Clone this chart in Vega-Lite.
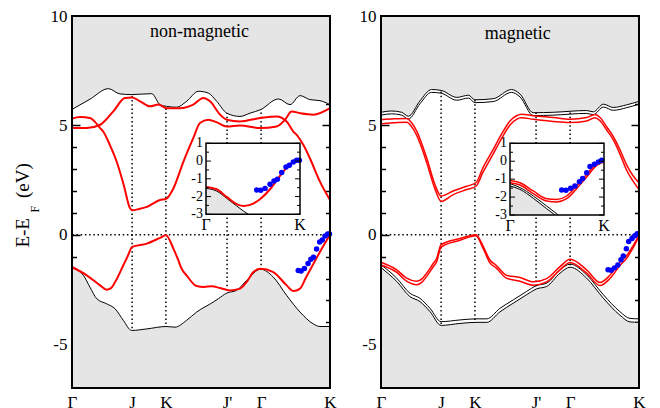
{
"$schema":"https://vega.github.io/schema/vega-lite/v6.json",
"autosize":{"type":"pad"},
"padding":{"left":14,"top":7,"right":0,"bottom":0},
"background":"white",
"bounds":"flush",
"spacing":51,
"datasets":{
"kp":[{"k":0.233},{"k":0.364},{"k":0.601},{"k":0.733}],
"inMaj":[{"v":1,"lab":"1"},{"v":0,"lab":"0"},{"v":-1,"lab":"-1"},{"v":-2,"lab":"-2"},{"v":-3,"lab":"-3"}],
"inMin":[{"v":0.5},{"v":-0.5},{"v":-1.5},{"v":-2.5}],
"inX":[{"k":0,"lab":"Γ"},{"k":1,"lab":"K"}],
"nmT":[{"k":0,"e":5.73},{"k":0.07,"e":6.2},{"k":0.141,"e":6.68},{"k":0.186,"e":6.44},{"k":0.231,"e":6.41},{"k":0.309,"e":6.45},{"k":0.341,"e":5.95},{"k":0.367,"e":5.87},{"k":0.406,"e":5.83},{"k":0.444,"e":6.1},{"k":0.49,"e":6.56},{"k":0.528,"e":6.48},{"k":0.561,"e":6.1},{"k":0.6,"e":5.56},{"k":0.651,"e":5.41},{"k":0.69,"e":5.56},{"k":0.731,"e":5.72},{"k":0.8,"e":6.21},{"k":0.845,"e":5.95},{"k":0.884,"e":6.36},{"k":0.922,"e":6.18},{"k":0.961,"e":6.13},{"k":1,"e":5.95}],
"nmB":[{"k":0,"e":-1.51},{"k":0.044,"e":-1.85},{"k":0.07,"e":-2.4},{"k":0.096,"e":-2.92},{"k":0.134,"e":-3.15},{"k":0.167,"e":-3.38},{"k":0.199,"e":-3.91},{"k":0.231,"e":-4.37},{"k":0.29,"e":-4.3},{"k":0.364,"e":-4.19},{"k":0.399,"e":-4.22},{"k":0.444,"e":-3.91},{"k":0.483,"e":-3.53},{"k":0.548,"e":-3.07},{"k":0.567,"e":-2.92},{"k":0.6,"e":-2.66},{"k":0.638,"e":-2.54},{"k":0.677,"e":-2.08},{"k":0.731,"e":-1.57},{"k":0.78,"e":-1.93},{"k":0.832,"e":-2.77},{"k":0.884,"e":-3.53},{"k":0.935,"e":-4.07},{"k":0.961,"e":-4.19},{"k":1,"e":-4.19}],
"nmR":[
{"s":"A","k":0,"e":5.31},{"s":"A","k":0.031,"e":5.38},{"s":"A","k":0.07,"e":5.34},{"s":"A","k":0.09,"e":5.15},{"s":"A","k":0.109,"e":4.88},{"s":"A","k":0.121,"e":4.72},{"s":"A","k":0.147,"e":4.1},{"s":"A","k":0.173,"e":3.35},{"s":"A","k":0.2,"e":2.3},{"s":"A","k":0.225,"e":1.21},{"s":"A","k":0.233,"e":1.12},{"s":"A","k":0.26,"e":1.18},{"s":"A","k":0.29,"e":1.28},{"s":"A","k":0.341,"e":1.59},{"s":"A","k":0.364,"e":1.64},{"s":"A","k":0.393,"e":2.12},{"s":"A","k":0.432,"e":3.35},{"s":"A","k":0.47,"e":4.42},{"s":"A","k":0.496,"e":5.11},{"s":"A","k":0.528,"e":5.26},{"s":"A","k":0.56,"e":5.15},{"s":"A","k":0.6,"e":4.95},{"s":"A","k":0.651,"e":5.0},{"s":"A","k":0.729,"e":4.88},{"s":"A","k":0.793,"e":4.95},{"s":"A","k":0.826,"e":5.26},{"s":"A","k":0.851,"e":5.64},{"s":"A","k":0.884,"e":5.56},{"s":"A","k":0.935,"e":5.49},{"s":"A","k":1,"e":5.79},
{"s":"B","k":0,"e":4.88},{"s":"B","k":0.057,"e":4.88},{"s":"B","k":0.109,"e":5.03},{"s":"B","k":0.16,"e":5.64},{"s":"B","k":0.205,"e":6.25},{"s":"B","k":0.233,"e":6.28},{"s":"B","k":0.264,"e":6.1},{"s":"B","k":0.302,"e":5.87},{"s":"B","k":0.335,"e":5.95},{"s":"B","k":0.367,"e":5.79},{"s":"B","k":0.419,"e":5.79},{"s":"B","k":0.47,"e":5.95},{"s":"B","k":0.509,"e":6.25},{"s":"B","k":0.535,"e":6.1},{"s":"B","k":0.574,"e":5.49},{"s":"B","k":0.6,"e":5.26},{"s":"B","k":0.651,"e":5.18},{"s":"B","k":0.729,"e":5.34},{"s":"B","k":0.793,"e":5.41},{"s":"B","k":0.832,"e":5.18},{"s":"B","k":0.858,"e":4.72},{"s":"B","k":0.871,"e":4.57},{"s":"B","k":0.897,"e":4.1},{"s":"B","k":0.922,"e":3.5},{"s":"B","k":0.961,"e":2.43},{"s":"B","k":1,"e":1.59},
{"s":"C","k":0,"e":-1.47},{"s":"C","k":0.057,"e":-1.85},{"s":"C","k":0.109,"e":-2.31},{"s":"C","k":0.134,"e":-2.51},{"s":"C","k":0.15,"e":-2.45},{"s":"C","k":0.167,"e":-2.16},{"s":"C","k":0.199,"e":-1.39},{"s":"C","k":0.215,"e":-1.0},{"s":"C","k":0.233,"e":-0.55},{"s":"C","k":0.29,"e":-0.4},{"s":"C","k":0.341,"e":-0.14},{"s":"C","k":0.364,"e":-0.02},{"s":"C","k":0.393,"e":-0.63},{"s":"C","k":0.41,"e":-1.1},{"s":"C","k":0.425,"e":-1.55},{"s":"C","k":0.444,"e":-1.85},{"s":"C","k":0.483,"e":-2.34},{"s":"C","k":0.512,"e":-2.38},{"s":"C","k":0.541,"e":-2.35},{"s":"C","k":0.574,"e":-2.43},{"s":"C","k":0.612,"e":-2.54},{"s":"C","k":0.651,"e":-2.46},{"s":"C","k":0.68,"e":-2.1},{"s":"C","k":0.703,"e":-1.7},{"s":"C","k":0.731,"e":-1.55},{"s":"C","k":0.78,"e":-1.7},{"s":"C","k":0.832,"e":-2.31},{"s":"C","k":0.858,"e":-2.57},{"s":"C","k":0.884,"e":-2.46},{"s":"C","k":0.905,"e":-2.0},{"s":"C","k":0.929,"e":-1.47},{"s":"C","k":0.961,"e":-0.78},{"s":"C","k":1,"e":0}],
"nmD":[{"k":0.877,"e":-1.63},{"k":0.888,"e":-1.65},{"k":0.901,"e":-1.54},{"k":0.915,"e":-1.31},{"k":0.926,"e":-1.12},{"k":0.936,"e":-1.03},{"k":0.948,"e":-0.65},{"k":0.96,"e":-0.33},{"k":0.97,"e":-0.24},{"k":0.981,"e":-0.05},{"k":0.991,"e":0.04},{"k":0.998,"e":0.04}],
"nmInR":[{"k":0,"e":-1.46},{"k":0.113,"e":-1.59},{"k":0.22,"e":-2.02},{"k":0.344,"e":-2.47},{"k":0.397,"e":-2.53},{"k":0.468,"e":-2.47},{"k":0.574,"e":-2.15},{"k":0.681,"e":-1.59},{"k":0.787,"e":-0.84},{"k":0.894,"e":-0.18},{"k":0.947,"e":0},{"k":1,"e":0.02}],
"nmInK":[{"k":0,"e":-1.54},{"k":0.113,"e":-1.69},{"k":0.22,"e":-2.1},{"k":0.326,"e":-2.53},{"k":0.397,"e":-2.81},{"k":0.45,"e":-3}],
"nmInD":[{"k":0.539,"e":-1.63},{"k":0.582,"e":-1.65},{"k":0.628,"e":-1.54},{"k":0.681,"e":-1.31},{"k":0.723,"e":-1.12},{"k":0.759,"e":-1.03},{"k":0.805,"e":-0.65},{"k":0.851,"e":-0.33},{"k":0.887,"e":-0.24},{"k":0.929,"e":-0.05},{"k":0.965,"e":0.04},{"k":0.993,"e":0.04}],
"mT":[
{"s":"T1","k":0,"e":5.6},{"s":"T1","k":0.041,"e":5.66},{"s":"T1","k":0.08,"e":5.6},{"s":"T1","k":0.106,"e":5.42},{"s":"T1","k":0.151,"e":6.12},{"s":"T1","k":0.196,"e":6.64},{"s":"T1","k":0.233,"e":6.6},{"s":"T1","k":0.294,"e":6.28},{"s":"T1","k":0.339,"e":6.38},{"s":"T1","k":0.364,"e":6.17},{"s":"T1","k":0.435,"e":6.22},{"s":"T1","k":0.506,"e":6.64},{"s":"T1","k":0.539,"e":6.43},{"s":"T1","k":0.59,"e":5.58},{"s":"T1","k":0.668,"e":5.6},{"s":"T1","k":0.797,"e":5.68},{"s":"T1","k":0.823,"e":5.62},{"s":"T1","k":0.862,"e":5.97},{"s":"T1","k":0.9,"e":5.82},{"s":"T1","k":0.952,"e":5.94},{"s":"T1","k":1,"e":6.1},
{"s":"T2","k":0,"e":5.47},{"s":"T2","k":0.041,"e":5.53},{"s":"T2","k":0.08,"e":5.47},{"s":"T2","k":0.106,"e":5.29},{"s":"T2","k":0.151,"e":5.99},{"s":"T2","k":0.196,"e":6.51},{"s":"T2","k":0.233,"e":6.47},{"s":"T2","k":0.294,"e":6.15},{"s":"T2","k":0.339,"e":6.25},{"s":"T2","k":0.364,"e":6.04},{"s":"T2","k":0.435,"e":6.09},{"s":"T2","k":0.506,"e":6.51},{"s":"T2","k":0.539,"e":6.3},{"s":"T2","k":0.59,"e":5.45},{"s":"T2","k":0.668,"e":5.47},{"s":"T2","k":0.797,"e":5.55},{"s":"T2","k":0.823,"e":5.49},{"s":"T2","k":0.862,"e":5.84},{"s":"T2","k":0.9,"e":5.69},{"s":"T2","k":0.952,"e":5.81},{"s":"T2","k":1,"e":5.97}],
"mB":[
{"s":"B1","k":0,"e":-1.37},{"s":"B1","k":0.061,"e":-1.98},{"s":"B1","k":0.112,"e":-2.67},{"s":"B1","k":0.151,"e":-2.9},{"s":"B1","k":0.19,"e":-3.36},{"s":"B1","k":0.233,"e":-3.97},{"s":"B1","k":0.306,"e":-3.89},{"s":"B1","k":0.368,"e":-3.84},{"s":"B1","k":0.41,"e":-3.84},{"s":"B1","k":0.461,"e":-3.36},{"s":"B1","k":0.513,"e":-2.97},{"s":"B1","k":0.564,"e":-2.59},{"s":"B1","k":0.603,"e":-2.32},{"s":"B1","k":0.642,"e":-2.21},{"s":"B1","k":0.694,"e":-1.6},{"s":"B1","k":0.733,"e":-1.34},{"s":"B1","k":0.797,"e":-1.83},{"s":"B1","k":0.862,"e":-2.74},{"s":"B1","k":0.926,"e":-3.51},{"s":"B1","k":0.965,"e":-3.82},{"s":"B1","k":1,"e":-3.84},
{"s":"B2","k":0,"e":-1.5},{"s":"B2","k":0.061,"e":-2.13},{"s":"B2","k":0.112,"e":-2.82},{"s":"B2","k":0.151,"e":-3.05},{"s":"B2","k":0.19,"e":-3.51},{"s":"B2","k":0.233,"e":-4.14},{"s":"B2","k":0.306,"e":-4.05},{"s":"B2","k":0.368,"e":-4.0},{"s":"B2","k":0.41,"e":-4.0},{"s":"B2","k":0.461,"e":-3.52},{"s":"B2","k":0.513,"e":-3.12},{"s":"B2","k":0.564,"e":-2.74},{"s":"B2","k":0.603,"e":-2.47},{"s":"B2","k":0.642,"e":-2.36},{"s":"B2","k":0.694,"e":-1.75},{"s":"B2","k":0.733,"e":-1.48},{"s":"B2","k":0.797,"e":-1.98},{"s":"B2","k":0.862,"e":-2.9},{"s":"B2","k":0.926,"e":-3.67},{"s":"B2","k":0.965,"e":-3.98},{"s":"B2","k":1,"e":-4.0}],
"mR":[
{"s":"R1","k":0,"e":5.26},{"s":"R1","k":0.05,"e":5.3},{"s":"R1","k":0.1,"e":5.32},{"s":"R1","k":0.12,"e":5.1},{"s":"R1","k":0.138,"e":4.75},{"s":"R1","k":0.157,"e":4.2},{"s":"R1","k":0.177,"e":3.52},{"s":"R1","k":0.209,"e":2.3},{"s":"R1","k":0.233,"e":1.77},{"s":"R1","k":0.28,"e":2.0},{"s":"R1","k":0.332,"e":2.22},{"s":"R1","k":0.368,"e":2.38},{"s":"R1","k":0.395,"e":3.06},{"s":"R1","k":0.435,"e":3.9},{"s":"R1","k":0.467,"e":4.6},{"s":"R1","k":0.5,"e":5.2},{"s":"R1","k":0.525,"e":5.44},{"s":"R1","k":0.545,"e":5.51},{"s":"R1","k":0.59,"e":5.44},{"s":"R1","k":0.668,"e":5.36},{"s":"R1","k":0.733,"e":5.28},{"s":"R1","k":0.797,"e":5.36},{"s":"R1","k":0.829,"e":5.5},{"s":"R1","k":0.85,"e":5.35},{"s":"R1","k":0.874,"e":4.95},{"s":"R1","k":0.9,"e":4.5},{"s":"R1","k":0.926,"e":3.9},{"s":"R1","k":0.952,"e":3.2},{"s":"R1","k":0.977,"e":2.7},{"s":"R1","k":1,"e":2.38},
{"s":"R2","k":0,"e":5.08},{"s":"R2","k":0.05,"e":5.12},{"s":"R2","k":0.1,"e":5.15},{"s":"R2","k":0.12,"e":4.92},{"s":"R2","k":0.138,"e":4.55},{"s":"R2","k":0.157,"e":4.0},{"s":"R2","k":0.177,"e":3.3},{"s":"R2","k":0.209,"e":2.1},{"s":"R2","k":0.233,"e":1.53},{"s":"R2","k":0.28,"e":1.84},{"s":"R2","k":0.332,"e":2.07},{"s":"R2","k":0.368,"e":2.22},{"s":"R2","k":0.395,"e":2.85},{"s":"R2","k":0.435,"e":3.7},{"s":"R2","k":0.467,"e":4.4},{"s":"R2","k":0.5,"e":5.02},{"s":"R2","k":0.525,"e":5.28},{"s":"R2","k":0.545,"e":5.35},{"s":"R2","k":0.59,"e":5.28},{"s":"R2","k":0.668,"e":5.18},{"s":"R2","k":0.733,"e":5.13},{"s":"R2","k":0.797,"e":5.2},{"s":"R2","k":0.829,"e":5.35},{"s":"R2","k":0.85,"e":5.2},{"s":"R2","k":0.874,"e":4.8},{"s":"R2","k":0.9,"e":4.35},{"s":"R2","k":0.926,"e":3.7},{"s":"R2","k":0.952,"e":2.95},{"s":"R2","k":0.977,"e":2.45},{"s":"R2","k":1,"e":2.07},
{"s":"V1","k":0,"e":-1.25},{"s":"V1","k":0.061,"e":-1.6},{"s":"V1","k":0.099,"e":-1.98},{"s":"V1","k":0.138,"e":-2.12},{"s":"V1","k":0.16,"e":-2.0},{"s":"V1","k":0.177,"e":-1.75},{"s":"V1","k":0.203,"e":-1.3},{"s":"V1","k":0.215,"e":-1.1},{"s":"V1","k":0.233,"e":-0.45},{"s":"V1","k":0.306,"e":-0.17},{"s":"V1","k":0.368,"e":0.0},{"s":"V1","k":0.395,"e":-0.5},{"s":"V1","k":0.422,"e":-1.15},{"s":"V1","k":0.447,"e":-1.4},{"s":"V1","k":0.486,"e":-1.85},{"s":"V1","k":0.539,"e":-1.95},{"s":"V1","k":0.59,"e":-2.15},{"s":"V1","k":0.642,"e":-2.0},{"s":"V1","k":0.694,"e":-1.45},{"s":"V1","k":0.733,"e":-1.12},{"s":"V1","k":0.797,"e":-1.6},{"s":"V1","k":0.849,"e":-2.18},{"s":"V1","k":0.887,"e":-1.85},{"s":"V1","k":0.926,"e":-1.25},{"s":"V1","k":0.952,"e":-0.95},{"s":"V1","k":0.977,"e":-0.5},{"s":"V1","k":1,"e":-0.02},
{"s":"V2","k":0,"e":-1.38},{"s":"V2","k":0.061,"e":-1.72},{"s":"V2","k":0.099,"e":-2.12},{"s":"V2","k":0.138,"e":-2.28},{"s":"V2","k":0.16,"e":-2.15},{"s":"V2","k":0.177,"e":-1.9},{"s":"V2","k":0.203,"e":-1.45},{"s":"V2","k":0.215,"e":-1.25},{"s":"V2","k":0.233,"e":-0.56},{"s":"V2","k":0.306,"e":-0.25},{"s":"V2","k":0.368,"e":-0.04},{"s":"V2","k":0.395,"e":-0.6},{"s":"V2","k":0.422,"e":-1.28},{"s":"V2","k":0.447,"e":-1.52},{"s":"V2","k":0.486,"e":-1.98},{"s":"V2","k":0.539,"e":-2.12},{"s":"V2","k":0.59,"e":-2.3},{"s":"V2","k":0.642,"e":-2.15},{"s":"V2","k":0.694,"e":-1.6},{"s":"V2","k":0.733,"e":-1.27},{"s":"V2","k":0.797,"e":-1.75},{"s":"V2","k":0.849,"e":-2.32},{"s":"V2","k":0.887,"e":-2.0},{"s":"V2","k":0.926,"e":-1.4},{"s":"V2","k":0.952,"e":-1.07},{"s":"V2","k":0.977,"e":-0.6},{"s":"V2","k":1,"e":-0.06}],
"mD":[{"k":0.88,"e":-1.6},{"k":0.892,"e":-1.62},{"k":0.905,"e":-1.51},{"k":0.918,"e":-1.38},{"k":0.93,"e":-1.14},{"k":0.939,"e":-0.97},{"k":0.951,"e":-0.64},{"k":0.96,"e":-0.3},{"k":0.973,"e":-0.17},{"k":0.984,"e":-0.04},{"k":0.993,"e":0.05}],
"mInR":[
{"s":"r1","k":0,"e":-1.07},{"s":"r1","k":0.106,"e":-1.2},{"s":"r1","k":0.248,"e":-1.66},{"s":"r1","k":0.39,"e":-2.09},{"s":"r1","k":0.496,"e":-2.13},{"s":"r1","k":0.603,"e":-1.94},{"s":"r1","k":0.709,"e":-1.38},{"s":"r1","k":0.816,"e":-0.73},{"s":"r1","k":0.922,"e":-0.13},{"s":"r1","k":1,"e":0.01},
{"s":"r2","k":0,"e":-1.2},{"s":"r2","k":0.106,"e":-1.33},{"s":"r2","k":0.248,"e":-1.81},{"s":"r2","k":0.39,"e":-2.22},{"s":"r2","k":0.496,"e":-2.27},{"s":"r2","k":0.603,"e":-2.09},{"s":"r2","k":0.709,"e":-1.53},{"s":"r2","k":0.816,"e":-0.88},{"s":"r2","k":0.922,"e":-0.23},{"s":"r2","k":1,"e":-0.04}],
"mInK":[
{"s":"k1","k":0,"e":-1.25},{"s":"k1","k":0.106,"e":-1.47},{"s":"k1","k":0.248,"e":-1.94},{"s":"k1","k":0.39,"e":-2.5},{"s":"k1","k":0.514,"e":-3},
{"s":"k2","k":0,"e":-1.38},{"s":"k2","k":0.106,"e":-1.57},{"s":"k2","k":0.248,"e":-2.07},{"s":"k2","k":0.39,"e":-2.65},{"s":"k2","k":0.479,"e":-3}],
"mInD":[{"k":0.55,"e":-1.6},{"k":0.596,"e":-1.62},{"k":0.645,"e":-1.51},{"k":0.691,"e":-1.38},{"k":0.738,"e":-1.14},{"k":0.773,"e":-0.97},{"k":0.816,"e":-0.64},{"k":0.851,"e":-0.3},{"k":0.897,"e":-0.17},{"k":0.94,"e":-0.04},{"k":0.975,"e":0.05}]
},
"hconcat":[
{
"width":258,"height":372,
"layer":[
{"layer":[
{"data":{"name":"kp"},"mark":{"type":"rule","color":"black","strokeWidth":1.5,"strokeDash":[1.5,2.7]},
 "encoding":{"x":{"field":"k","type":"quantitative","scale":{"domain":[0,1],"nice":false,"zero":false},
  "axis":{"orient":"bottom","values":[0,0.233,0.364,0.601,0.733,1],"labelExpr":"datum.value < 0.1 ? 'Γ' : datum.value < 0.3 ? 'J' : datum.value < 0.5 ? 'K' : datum.value < 0.65 ? \"J'\" : datum.value < 0.9 ? 'Γ' : 'K'","ticks":false,"domain":false,"grid":false,"title":null,"labelFont":"Liberation Serif, DejaVu Serif, serif","labelFontSize":17,"labelColor":"black","labelPadding":6,"labelFlush":false,"labelOverlap":false}}}},
{"data":{"values":[{}]},"mark":{"type":"rule","color":"black","strokeWidth":1.5,"strokeDash":[1.5,2.7]},
 "encoding":{"y":{"datum":0,"type":"quantitative","scale":{"domain":[-7,10],"nice":false,"zero":false},
  "axis":{"orient":"left","values":[-6,-5,-4,-3,-2,-1,0,1,2,3,4,5,6,7,8,9,10],"labelExpr":"datum.value % 5 == 0 ? '' + datum.value : ''","tickSize":{"condition":{"test":"datum.value % 5 == 0","value":-8},"value":-4.5},"tickColor":"black","tickWidth":1.5,"domain":false,"grid":false,"title":null,"labelFont":"Liberation Serif, DejaVu Serif, serif","labelFontSize":17,"labelColor":"black","labelPadding":13,"labelFlush":false,"labelOverlap":false}}}},
{"data":{"name":"nmT"},"mark":{"type":"area","color":"#e5e5e5","interpolate":"monotone"},
 "encoding":{"x":{"field":"k","type":"quantitative","axis":null},"y":{"field":"e","type":"quantitative","stack":null,
  "axis":{"orient":"right","values":[-6,-5,-4,-3,-2,-1,0,1,2,3,4,5,6,7,8,9,10],"labels":false,"tickSize":{"condition":{"test":"datum.value % 5 == 0","value":-8},"value":-4.5},"tickColor":"black","tickWidth":1.5,"domain":false,"grid":false,"title":null}},"y2":{"datum":10}}},
{"data":{"name":"nmB"},"mark":{"type":"area","color":"#e5e5e5","interpolate":"monotone"},
 "encoding":{"x":{"field":"k","type":"quantitative","axis":null},"y":{"field":"e","type":"quantitative","stack":null,"axis":null},"y2":{"datum":-7}}},
{"data":{"name":"nmT"},"mark":{"type":"line","color":"black","strokeWidth":1,"interpolate":"monotone"},
 "encoding":{"x":{"field":"k","type":"quantitative","axis":null},"y":{"field":"e","type":"quantitative","axis":null}}},
{"data":{"name":"nmB"},"mark":{"type":"line","color":"black","strokeWidth":1,"interpolate":"monotone"},
 "encoding":{"x":{"field":"k","type":"quantitative","axis":null},"y":{"field":"e","type":"quantitative","axis":null}}},
{"data":{"name":"nmR"},"mark":{"type":"line","color":"#ff0000","strokeWidth":2,"interpolate":"monotone"},
 "encoding":{"x":{"field":"k","type":"quantitative","axis":null},"y":{"field":"e","type":"quantitative","axis":null},"detail":{"field":"s"}}},
{"data":{"name":"nmD"},"mark":{"type":"point","filled":true,"color":"#0000ff","opacity":1,"size":30},
 "encoding":{"x":{"field":"k","type":"quantitative","axis":null},"y":{"field":"e","type":"quantitative","axis":null}}},
{"data":{"values":[{}]},"mark":{"type":"text","text":"non-magnetic","font":"Liberation Serif, DejaVu Serif, serif","fontSize":18,"color":"black","align":"center","baseline":"middle"},
 "encoding":{"x":{"datum":0.494,"type":"quantitative","axis":null},"y":{"datum":9.27,"type":"quantitative","axis":null}}},
{"data":{"values":[{}]},"mark":{"type":"text","text":"E-E","font":"Liberation Serif, DejaVu Serif, serif","fontSize":19,"color":"black","align":"center","baseline":"middle","angle":270},
 "encoding":{"x":{"datum":-0.189,"type":"quantitative","axis":null},"y":{"datum":0.09,"type":"quantitative","axis":null}}},
{"data":{"values":[{}]},"mark":{"type":"text","text":"F","font":"Liberation Serif, DejaVu Serif, serif","fontSize":12,"color":"black","align":"center","baseline":"middle","angle":270},
 "encoding":{"x":{"datum":-0.143,"type":"quantitative","axis":null},"y":{"datum":1.17,"type":"quantitative","axis":null}}},
{"data":{"values":[{}]},"mark":{"type":"text","text":"(eV)","font":"Liberation Serif, DejaVu Serif, serif","fontSize":19,"color":"black","align":"center","baseline":"middle","angle":270},
 "encoding":{"x":{"datum":-0.189,"type":"quantitative","axis":null},"y":{"datum":2.48,"type":"quantitative","axis":null}}},
{"data":{"values":[{}]},"mark":{"type":"rect","filled":false,"stroke":"black","strokeWidth":2},
 "encoding":{"x":{"datum":0,"type":"quantitative","axis":null},"x2":{"datum":1},"y":{"datum":-7,"type":"quantitative","axis":null},"y2":{"datum":10}}}
],"resolve":{"axis":{"x":"independent","y":"independent"}}},
{"layer":[
{"data":{"values":[{}]},"mark":{"type":"rect","fill":"white","strokeOpacity":0},
 "encoding":{"x":{"datum":0,"type":"quantitative","axis":null,"scale":{"domain":[-1.4255,1.3191],"nice":false,"zero":false}},"x2":{"datum":1},
  "y":{"datum":-3,"type":"quantitative","axis":null,"scale":{"domain":[-12.786,8.172],"nice":false,"zero":false}},"y2":{"datum":1}}},
{"data":{"name":"nmInK"},"mark":{"type":"area","color":"#e5e5e5","interpolate":"monotone"},
 "encoding":{"x":{"field":"k","type":"quantitative","axis":null},"y":{"field":"e","type":"quantitative","stack":null,"axis":null},"y2":{"datum":-3}}},
{"data":{"name":"nmInK"},"mark":{"type":"line","color":"black","strokeWidth":1,"interpolate":"monotone"},
 "encoding":{"x":{"field":"k","type":"quantitative","axis":null},"y":{"field":"e","type":"quantitative","axis":null}}},
{"data":{"name":"nmInR"},"mark":{"type":"line","color":"#ff0000","strokeWidth":2,"interpolate":"monotone"},
 "encoding":{"x":{"field":"k","type":"quantitative","axis":null},"y":{"field":"e","type":"quantitative","axis":null}}},
{"data":{"name":"nmInD"},"mark":{"type":"point","filled":true,"color":"#0000ff","opacity":1,"size":30},
 "encoding":{"x":{"field":"k","type":"quantitative","axis":null},"y":{"field":"e","type":"quantitative","axis":null}}},
{"data":{"name":"inMaj"},"mark":{"type":"rule","color":"black","strokeWidth":1},
 "encoding":{"x":{"datum":0,"type":"quantitative","axis":null},"x2":{"datum":0.053},"y":{"field":"v","type":"quantitative","axis":null}}},
{"data":{"name":"inMin"},"mark":{"type":"rule","color":"black","strokeWidth":1},
 "encoding":{"x":{"datum":0,"type":"quantitative","axis":null},"x2":{"datum":0.032},"y":{"field":"v","type":"quantitative","axis":null}}},
{"data":{"name":"inMaj"},"mark":{"type":"rule","color":"black","strokeWidth":1},
 "encoding":{"x":{"datum":1,"type":"quantitative","axis":null},"x2":{"datum":0.947},"y":{"field":"v","type":"quantitative","axis":null}}},
{"data":{"name":"inMin"},"mark":{"type":"rule","color":"black","strokeWidth":1},
 "encoding":{"x":{"datum":1,"type":"quantitative","axis":null},"x2":{"datum":0.968},"y":{"field":"v","type":"quantitative","axis":null}}},
{"data":{"name":"inMaj"},"mark":{"type":"text","font":"Liberation Serif, DejaVu Serif, serif","fontSize":14,"color":"black","align":"right","baseline":"middle","dx":-3},
 "encoding":{"x":{"datum":0,"type":"quantitative","axis":null},"y":{"field":"v","type":"quantitative","axis":null},"text":{"field":"lab"}}},
{"data":{"name":"inX"},"mark":{"type":"text","font":"Liberation Serif, DejaVu Serif, serif","fontSize":16,"color":"black","align":"center","baseline":"top","dy":3},
 "encoding":{"x":{"field":"k","type":"quantitative","axis":null},"y":{"datum":-3,"type":"quantitative","axis":null},"text":{"field":"lab"}}},
{"data":{"values":[{}]},"mark":{"type":"rect","filled":false,"stroke":"black","strokeWidth":1.5},
 "encoding":{"x":{"datum":0,"type":"quantitative","axis":null},"x2":{"datum":1},"y":{"datum":-3,"type":"quantitative","axis":null},"y2":{"datum":1}}}
]}
],
"resolve":{"scale":{"x":"independent","y":"independent"}}
},
{
"width":258,"height":372,
"layer":[
{"layer":[
{"data":{"name":"kp"},"mark":{"type":"rule","color":"black","strokeWidth":1.5,"strokeDash":[1.5,2.7]},
 "encoding":{"x":{"field":"k","type":"quantitative","scale":{"domain":[0,1],"nice":false,"zero":false},
  "axis":{"orient":"bottom","values":[0,0.233,0.364,0.601,0.733,1],"labelExpr":"datum.value < 0.1 ? 'Γ' : datum.value < 0.3 ? 'J' : datum.value < 0.5 ? 'K' : datum.value < 0.65 ? \"J'\" : datum.value < 0.9 ? 'Γ' : 'K'","ticks":false,"domain":false,"grid":false,"title":null,"labelFont":"Liberation Serif, DejaVu Serif, serif","labelFontSize":17,"labelColor":"black","labelPadding":6,"labelFlush":false,"labelOverlap":false}}}},
{"data":{"values":[{}]},"mark":{"type":"rule","color":"black","strokeWidth":1.5,"strokeDash":[1.5,2.7]},
 "encoding":{"y":{"datum":0,"type":"quantitative","scale":{"domain":[-7,10],"nice":false,"zero":false},
  "axis":{"orient":"left","values":[-6,-5,-4,-3,-2,-1,0,1,2,3,4,5,6,7,8,9,10],"labelExpr":"datum.value % 5 == 0 ? '' + datum.value : ''","tickSize":{"condition":{"test":"datum.value % 5 == 0","value":-8},"value":-4.5},"tickColor":"black","tickWidth":1.5,"domain":false,"grid":false,"title":null,"labelFont":"Liberation Serif, DejaVu Serif, serif","labelFontSize":17,"labelColor":"black","labelPadding":13,"labelFlush":false,"labelOverlap":false}}}},
{"data":{"name":"mT"},"transform":[{"filter":"datum.s == 'T1'"}],"mark":{"type":"area","color":"#e5e5e5","interpolate":"monotone"},
 "encoding":{"x":{"field":"k","type":"quantitative","axis":null},"y":{"field":"e","type":"quantitative","stack":null,
  "axis":{"orient":"right","values":[-6,-5,-4,-3,-2,-1,0,1,2,3,4,5,6,7,8,9,10],"labels":false,"tickSize":{"condition":{"test":"datum.value % 5 == 0","value":-8},"value":-4.5},"tickColor":"black","tickWidth":1.5,"domain":false,"grid":false,"title":null}},"y2":{"datum":10}}},
{"data":{"name":"mB"},"transform":[{"filter":"datum.s == 'B2'"}],"mark":{"type":"area","color":"#e5e5e5","interpolate":"monotone"},
 "encoding":{"x":{"field":"k","type":"quantitative","axis":null},"y":{"field":"e","type":"quantitative","stack":null,"axis":null},"y2":{"datum":-7}}},
{"data":{"name":"mT"},"mark":{"type":"line","color":"black","strokeWidth":1,"interpolate":"monotone"},
 "encoding":{"x":{"field":"k","type":"quantitative","axis":null},"y":{"field":"e","type":"quantitative","axis":null},"detail":{"field":"s"}}},
{"data":{"name":"mB"},"mark":{"type":"line","color":"black","strokeWidth":1,"interpolate":"monotone"},
 "encoding":{"x":{"field":"k","type":"quantitative","axis":null},"y":{"field":"e","type":"quantitative","axis":null},"detail":{"field":"s"}}},
{"data":{"name":"mR"},"mark":{"type":"line","color":"#ff0000","strokeWidth":1.5,"interpolate":"monotone"},
 "encoding":{"x":{"field":"k","type":"quantitative","axis":null},"y":{"field":"e","type":"quantitative","axis":null},"detail":{"field":"s"}}},
{"data":{"name":"mD"},"mark":{"type":"point","filled":true,"color":"#0000ff","opacity":1,"size":30},
 "encoding":{"x":{"field":"k","type":"quantitative","axis":null},"y":{"field":"e","type":"quantitative","axis":null}}},
{"data":{"values":[{}]},"mark":{"type":"text","text":"magnetic","font":"Liberation Serif, DejaVu Serif, serif","fontSize":18,"color":"black","align":"center","baseline":"middle"},
 "encoding":{"x":{"datum":0.53,"type":"quantitative","axis":null},"y":{"datum":9.19,"type":"quantitative","axis":null}}},
{"data":{"values":[{}]},"mark":{"type":"rect","filled":false,"stroke":"black","strokeWidth":2},
 "encoding":{"x":{"datum":0,"type":"quantitative","axis":null},"x2":{"datum":1},"y":{"datum":-7,"type":"quantitative","axis":null},"y2":{"datum":10}}}
],"resolve":{"axis":{"x":"independent","y":"independent"}}},
{"layer":[
{"data":{"values":[{}]},"mark":{"type":"rect","fill":"white","strokeOpacity":0},
 "encoding":{"x":{"datum":0,"type":"quantitative","axis":null,"scale":{"domain":[-1.3723,1.3723],"nice":false,"zero":false}},"x2":{"datum":1},
  "y":{"datum":-3,"type":"quantitative","axis":null,"scale":{"domain":[-12.654,8.104],"nice":false,"zero":false}},"y2":{"datum":1}}},
{"data":{"name":"mInK"},"transform":[{"filter":"datum.s == 'k2'"}],"mark":{"type":"area","color":"#e5e5e5","interpolate":"monotone"},
 "encoding":{"x":{"field":"k","type":"quantitative","axis":null},"y":{"field":"e","type":"quantitative","stack":null,"axis":null},"y2":{"datum":-3}}},
{"data":{"name":"mInK"},"mark":{"type":"line","color":"black","strokeWidth":1,"interpolate":"monotone"},
 "encoding":{"x":{"field":"k","type":"quantitative","axis":null},"y":{"field":"e","type":"quantitative","axis":null},"detail":{"field":"s"}}},
{"data":{"name":"mInR"},"mark":{"type":"line","color":"#ff0000","strokeWidth":1.5,"interpolate":"monotone"},
 "encoding":{"x":{"field":"k","type":"quantitative","axis":null},"y":{"field":"e","type":"quantitative","axis":null},"detail":{"field":"s"}}},
{"data":{"name":"mInD"},"mark":{"type":"point","filled":true,"color":"#0000ff","opacity":1,"size":30},
 "encoding":{"x":{"field":"k","type":"quantitative","axis":null},"y":{"field":"e","type":"quantitative","axis":null}}},
{"data":{"name":"inMaj"},"mark":{"type":"rule","color":"black","strokeWidth":1},
 "encoding":{"x":{"datum":0,"type":"quantitative","axis":null},"x2":{"datum":0.053},"y":{"field":"v","type":"quantitative","axis":null}}},
{"data":{"name":"inMin"},"mark":{"type":"rule","color":"black","strokeWidth":1},
 "encoding":{"x":{"datum":0,"type":"quantitative","axis":null},"x2":{"datum":0.032},"y":{"field":"v","type":"quantitative","axis":null}}},
{"data":{"name":"inMaj"},"mark":{"type":"rule","color":"black","strokeWidth":1},
 "encoding":{"x":{"datum":1,"type":"quantitative","axis":null},"x2":{"datum":0.947},"y":{"field":"v","type":"quantitative","axis":null}}},
{"data":{"name":"inMin"},"mark":{"type":"rule","color":"black","strokeWidth":1},
 "encoding":{"x":{"datum":1,"type":"quantitative","axis":null},"x2":{"datum":0.968},"y":{"field":"v","type":"quantitative","axis":null}}},
{"data":{"name":"inMaj"},"mark":{"type":"text","font":"Liberation Serif, DejaVu Serif, serif","fontSize":14,"color":"black","align":"right","baseline":"middle","dx":-3},
 "encoding":{"x":{"datum":0,"type":"quantitative","axis":null},"y":{"field":"v","type":"quantitative","axis":null},"text":{"field":"lab"}}},
{"data":{"name":"inX"},"mark":{"type":"text","font":"Liberation Serif, DejaVu Serif, serif","fontSize":16,"color":"black","align":"center","baseline":"top","dy":3},
 "encoding":{"x":{"field":"k","type":"quantitative","axis":null},"y":{"datum":-3,"type":"quantitative","axis":null},"text":{"field":"lab"}}},
{"data":{"values":[{}]},"mark":{"type":"rect","filled":false,"stroke":"black","strokeWidth":1.5},
 "encoding":{"x":{"datum":0,"type":"quantitative","axis":null},"x2":{"datum":1},"y":{"datum":-3,"type":"quantitative","axis":null},"y2":{"datum":1}}}
]}
],
"resolve":{"scale":{"x":"independent","y":"independent"}}
}
],
"config":{"view":{"stroke":null},"text":{"font":"Liberation Serif, DejaVu Serif, serif","color":"black"}}
}
